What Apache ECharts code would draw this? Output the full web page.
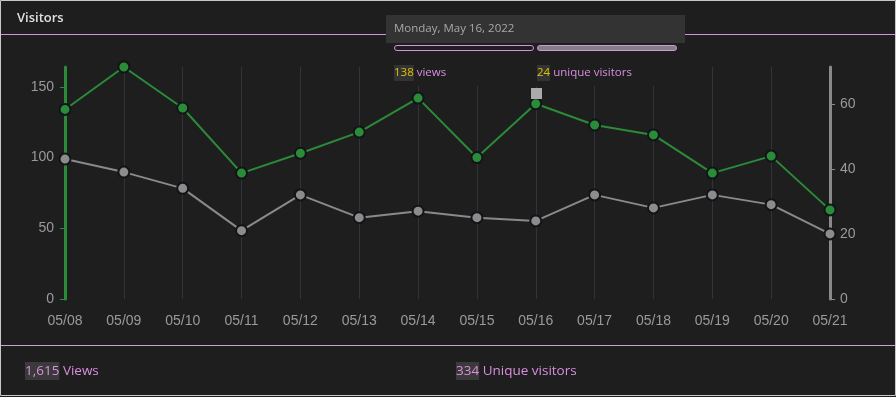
<!DOCTYPE html>
<html>
<head>
<meta charset="utf-8">
<script src="https://cdn.jsdelivr.net/npm/echarts@6/dist/echarts.min.js"></script>
<style>
  html, body { margin: 0; padding: 0; background: #1e1e1e; }
  #chart { width: 896px; height: 397px; }
</style>
</head>
<body>
<div id="chart"></div>
<script>
// data
var days = ['05/08', '05/09', '05/10', '05/11', '05/12', '05/13', '05/14',
            '05/15', '05/16', '05/17', '05/18', '05/19', '05/20', '05/21']
var views = [134, 164, 135, 89, 103, 118, 142, 100, 138, 123, 116, 89, 101, 63]
var uniques = [43, 39, 34, 21, 32, 25, 27, 25, 24, 32, 28, 32, 29, 20]

var pink = '#d98ee0'
var uiFont = '"Open Sans", "Noto Sans", sans-serif'
var axisFont = '"Liberation Sans", Arial, sans-serif'

var chart = echarts.init(document.getElementById('chart'))

chart.setOption({
    backgroundColor: '#1e1e1e',
    animation: false,
    grid: { left: 65, right: 66, top: 67, bottom: 98 },
    xAxis: {
        type: 'category',
        data: days,
        boundaryGap: false,
        axisLine: { show: false },
        axisTick: { show: false },
        axisLabel: { color: '#9a9a9a', fontSize: 14, fontFamily: axisFont, margin: 15 },
        splitLine: { show: true, lineStyle: { color: '#30353b', width: 1 } }
    },
    yAxis: [{
        type: 'value',
        min: 0,
        max: 164,
        interval: 50,
        position: 'left',
        axisLine: { show: true, lineStyle: { color: '#2a8b38', width: 3 } },
        axisTick: { show: true, length: 5, lineStyle: { color: '#2a8b38', width: 1 } },
        axisLabel: { color: '#9a9a9a', fontSize: 14, fontFamily: axisFont, margin: 11,
            showMaxLabel: false },
        splitLine: { show: false }
    }, {
        type: 'value',
        min: 0,
        max: 71.3,
        interval: 20,
        position: 'right',
        axisLine: { show: true, lineStyle: { color: '#8a8a8a', width: 3 } },
        axisTick: { show: true, length: 5, lineStyle: { color: '#8a8a8a', width: 1 } },
        axisLabel: { color: '#9a9a9a', fontSize: 14, fontFamily: axisFont, margin: 10,
            showMaxLabel: false },
        splitLine: { show: false }
    }],
    series: [{
        name: 'Unique visitors',
        type: 'line',
        yAxisIndex: 1,
        data: uniques,
        symbol: 'circle',
        symbolSize: 11,
        lineStyle: { color: '#8a8a8a', width: 2 },
        itemStyle: { color: '#8c8c8c', borderColor: '#121418', borderWidth: 2 },
        z: 3
    }, {
        name: 'Views',
        type: 'line',
        yAxisIndex: 0,
        data: views,
        symbol: 'circle',
        symbolSize: 11,
        lineStyle: { color: '#2a8b38', width: 2 },
        itemStyle: { color: '#2a8b38', borderColor: '#121418', borderWidth: 2 },
        z: 4
    }],
    graphic: [
        // frame, header and footer
        { type: 'rect', z: 100, shape: { x: 0.5, y: 0.5, width: 895, height: 395 },
          style: { fill: null, stroke: '#c8c8c8', lineWidth: 1 } },
        { type: 'text', z: 100, x: 17, y: 18,
          style: { text: 'Visitors', fill: '#e0e0e0', font: '600 13px ' + uiFont,
                   verticalAlign: 'middle' } },
        { type: 'rect', z: 100, shape: { x: 1, y: 34, width: 894, height: 1 },
          style: { fill: pink } },
        { type: 'rect', z: 100, shape: { x: 1, y: 345, width: 894, height: 1 },
          style: { fill: '#caa3cd' } },
        { type: 'text', z: 100, x: 25, y: 371,
          style: {
              text: '{n|1,615} Views',
              fill: pink, font: '13.5px ' + uiFont, verticalAlign: 'middle',
              rich: { n: { backgroundColor: '#3a3a3a', fill: pink, font: '13.5px ' + uiFont,
                           padding: [2, 0, 2, 0] } }
          } },
        { type: 'text', z: 100, x: 456, y: 371,
          style: {
              text: '{n|334} Unique visitors',
              fill: pink, font: '13.5px ' + uiFont, verticalAlign: 'middle',
              rich: { n: { backgroundColor: '#3a3a3a', fill: pink, font: '13.5px ' + uiFont,
                           padding: [2, 0, 2, 0] } }
          } },
        // hover tooltip for 05/16
        { type: 'rect', z: 100, shape: { x: 386, y: 43, width: 299, height: 43 },
          style: { fill: '#1e1e1e' } },
        { type: 'rect', z: 101, shape: { x: 386, y: 15, width: 299, height: 28 },
          style: { fill: '#333333' } },
        { type: 'text', z: 102, x: 394, y: 29,
          style: { text: 'Monday, May 16, 2022', fill: '#a8a8a8', font: '11.5px ' + uiFont,
                   verticalAlign: 'middle' } },
        { type: 'rect', z: 102, shape: { x: 394.5, y: 45.5, width: 139, height: 5, r: 3 },
          style: { fill: '#1e1e1e', stroke: pink, lineWidth: 1 } },
        { type: 'rect', z: 102, shape: { x: 537.5, y: 45.5, width: 139, height: 5, r: 3 },
          style: { fill: '#808080', stroke: pink, lineWidth: 1 } },
        { type: 'text', z: 102, x: 394, y: 73,
          style: {
              text: '{n|138} views',
              fill: pink, font: '11.5px ' + uiFont, verticalAlign: 'middle',
              rich: { n: { backgroundColor: '#333333', fill: '#e3c000', font: '11.5px ' + uiFont,
                           padding: [2, 0, 2, 0] } }
          } },
        { type: 'text', z: 102, x: 537, y: 73,
          style: {
              text: '{n|24} unique visitors',
              fill: pink, font: '11.5px ' + uiFont, verticalAlign: 'middle',
              rich: { n: { backgroundColor: '#333333', fill: '#e3c000', font: '11.5px ' + uiFont,
                           padding: [2, 0, 2, 0] } }
          } },
        { type: 'rect', z: 102, shape: { x: 531, y: 88, width: 11, height: 11 },
          style: { fill: '#aaaaaa' } }
    ]
})
</script>
</body>
</html>
